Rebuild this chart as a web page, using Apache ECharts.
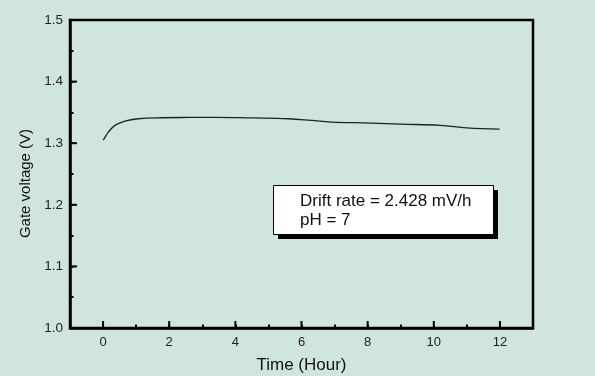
<!DOCTYPE html>
<html><head><meta charset="utf-8">
<script src="https://cdn.jsdelivr.net/npm/echarts@6/dist/echarts.min.js"></script>
<style>html,body{margin:0;padding:0;background:#d0e4e0;}#c{width:595px;height:376px;}</style>
</head><body><div id="c"></div>
<script>
const hours   = [0.00, 0.04, 0.16, 0.36, 0.66, 1.06, 1.77, 2.6, 3.38, 4.5, 5.6, 6.3, 6.9, 8.1, 9.0, 10.2, 11.0, 11.99];
const voltage = [1.305, 1.308, 1.318, 1.329, 1.336, 1.3397, 1.3413, 1.3418, 1.342, 1.341, 1.3397, 1.337, 1.3343, 1.3327, 1.331, 1.329, 1.325, 1.323];
const xMajorTicks = [0, 2, 4, 6, 8, 10, 12];
const yMajorTicks = [1.0, 1.1, 1.2, 1.3, 1.4, 1.5];
const noteLines = ['Drift rate = 2.428 mV/h', 'pH = 7'];

const X_MIN = -1, X_MAX = 13, Y_MIN = 1.0, Y_MAX = 1.5;
const chart = echarts.init(document.getElementById('c'), null, {renderer: 'canvas'});
const font = 'Liberation Sans, Arial, sans-serif';
const tickStyle = {color: '#000', width: 2};

function majorTickSeries(dir, values) {
  return {
    type: 'custom', silent: true, clip: false, z: 50,
    data: values.map(v => dir === 'x' ? [v, Y_MIN] : [X_MIN, v]),
    encode: {x: 0, y: 1},
    renderItem: function (params, api) {
      const p = api.coord([api.value(0), api.value(1)]);
      const shape = dir === 'x'
        ? {x1: p[0], y1: p[1], x2: p[0], y2: p[1] - 7}
        : {x1: p[0], y1: p[1], x2: p[0] + 7, y2: p[1]};
      return {type: 'line', shape: shape, style: {stroke: '#000', lineWidth: 2}};
    }
  };
}

chart.setOption({
  backgroundColor: '#d0e4e0',
  animation: false,
  grid: {left: 70, top: 20, width: 463, height: 308, outerBoundsMode: 'none', containLabel: false,
    show: true, borderColor: '#000', borderWidth: 2.5, backgroundColor: 'transparent'},
  xAxis: {
    type: 'value', min: X_MIN, max: X_MAX, interval: 1,
    axisLine: {show: true, onZero: false, lineStyle: {color: '#000', width: 2.5}},
    splitLine: {show: false},
    axisTick: {show: true, inside: true, length: 3.5, lineStyle: tickStyle},
    axisLabel: {margin: 8, color: '#222', fontSize: 13, fontFamily: font,
      formatter: v => (Math.round(v) % 2 === 0 ? String(v) : '')},
    name: 'Time (Hour)', nameLocation: 'middle', nameGap: 29,
    nameTextStyle: {color: '#111', fontSize: 17, fontFamily: font}
  },
  yAxis: {
    type: 'value', min: Y_MIN, max: Y_MAX, interval: 0.05,
    axisLine: {show: true, onZero: false, lineStyle: {color: '#000', width: 2.5}},
    splitLine: {show: false},
    axisTick: {show: true, inside: true, length: 3.5, lineStyle: tickStyle},
    axisLabel: {margin: 7, color: '#222', fontSize: 13.5, fontFamily: font,
      formatter: v => (Math.round(v * 100) % 10 === 0 ? v.toFixed(1) : '')},
    name: 'Gate voltage (V)', nameLocation: 'middle', nameGap: 35, nameRotate: 90,
    nameTextStyle: {color: '#111', fontSize: 15, fontFamily: font, padding: [0, 19, 0, 0]}
  },
  series: [{
    type: 'line',
    data: hours.map((h, i) => [h, voltage[i]]),
    smooth: 0.4, showSymbol: false,
    lineStyle: {color: '#222', width: 1.3}
  },
    majorTickSeries('x', xMajorTicks),
    majorTickSeries('y', yMajorTicks)
  ],
  graphic: [{
    type: 'rect', left: 278, top: 190, shape: {width: 220, height: 49}, style: {fill: '#000'}, z: 10
  }, {
    type: 'rect', left: 273, top: 185, shape: {width: 220, height: 49}, style: {fill: '#fff', stroke: '#000', lineWidth: 1}, z: 11
  }, {
    type: 'text', left: 300, top: 192, z: 12,
    style: {text: noteLines.join('\n'), fill: '#111', font: '17px ' + font, lineHeight: 19}
  }]
});
</script></body></html>
